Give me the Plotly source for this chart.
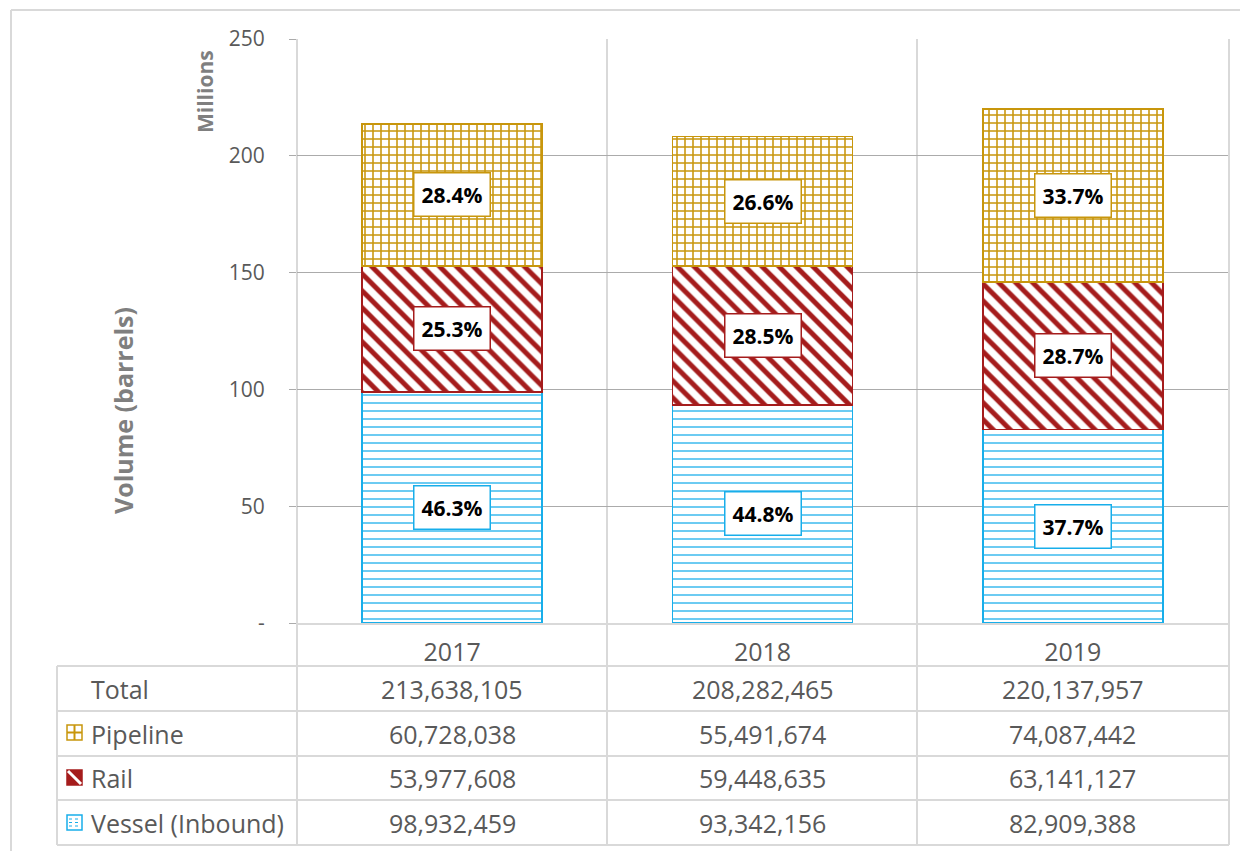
import plotly.graph_objects as go

# ---- data ----
years = ["2017", "2018", "2019"]
pipeline = [60728038, 55491674, 74087442]
rail = [53977608, 59448635, 63141127]
vessel = [98932459, 93342156, 82909388]
totals = [213638105, 208282465, 220137957]
y_ticks = [0, 50, 100, 150, 200, 250]
y_tick_text = ["-", "50", "100", "150", "200", "250"]
row_labels = ["Total", "Pipeline", "Rail", "Vessel (Inbound)"]

# ---- style ----
C_PIPE = "#C8960C"
C_RAIL = "#A51C1C"
C_VES = "#18AEEA"
GRAY_TXT = "#595959"
TITLE_GRAY = "#7F7F7F"
LIGHT = "#D9D9D9"
GRID = "#ABABAB"
FONT = "Open Sans"

OFF = 8  # page body margin
W, H = 1248 - OFF, 851 - OFF
L, R, T, B = 297 - OFF, 20, 39 - OFF, 228
PW = W - L - R
PH = H - T - B


def px(x):
    return (x - OFF - L) / PW


def py(y):
    return (H - B - (y - OFF)) / PH


series = [
    ("Vessel (Inbound)", vessel, C_VES, "-", 8, 0.2, 0.8),
    ("Rail", rail, C_RAIL, "\\", 12, 0.42, 1.0),
    ("Pipeline", pipeline, C_PIPE, "+", 8, 0.35, 1.0),
]

fig = go.Figure()
for name, vals, col, shp, sz, sol, op in series:
    fig.add_trace(go.Bar(
        x=years, y=[v / 1e6 for v in vals], name=name, width=0.58,
        marker=dict(color=col, line=dict(color=col, width=1.5),
                    pattern=dict(shape=shp, size=sz, solidity=sol, fgopacity=op,
                                 fgcolor=col, bgcolor="white", fillmode="replace")),
        showlegend=False, hoverinfo="skip",
    ))

annotations = []
shapes = []

# percentage labels
for i, yr in enumerate(years):
    base = 0.0
    for name, vals, col, *_ in series:
        v = vals[i] / 1e6
        pct = vals[i] / totals[i] * 100
        annotations.append(dict(
            x=i, y=base + v / 2, xref="x", yref="y", showarrow=False,
            xanchor="center", yanchor="middle",
            text=f"<b>{pct:.1f}%</b>", font=dict(family=FONT, size=21, color="black"),
            bgcolor="white", bordercolor=col, borderwidth=1.5, borderpad=7,
        ))
        base += v

# axis titles
annotations.append(dict(x=px(123), y=py(411), xref="paper", yref="paper", showarrow=False,
                        xanchor="center", yanchor="middle",
                        text="<b>Volume (barrels)</b>", textangle=-90,
                        font=dict(family=FONT, size=25, color=TITLE_GRAY)))
annotations.append(dict(x=px(205), y=py(92), xref="paper", yref="paper", showarrow=False,
                        xanchor="center", yanchor="middle",
                        text="<b>Millions</b>", textangle=-90,
                        font=dict(family=FONT, size=21, color=TITLE_GRAY)))

# ---- data table below ----
row_lines = [666, 711, 756, 800, 845]
col_lines = [297, 607, 917, 1229]
for yl in row_lines:
    shapes.append(dict(type="line", xref="paper", yref="paper", x0=px(57), x1=px(1229),
                       y0=py(yl), y1=py(yl), line=dict(color=LIGHT, width=2)))
shapes.append(dict(type="line", xref="paper", yref="paper", x0=px(57), x1=px(57),
                   y0=py(666), y1=py(845), line=dict(color=LIGHT, width=2)))
for xl in col_lines:
    shapes.append(dict(type="line", xref="paper", yref="paper", x0=px(xl), x1=px(xl),
                       y0=py(39), y1=py(845), line=dict(color=LIGHT, width=2), layer="below"))

table_rows = [totals, pipeline, rail, vessel]
for r, (lab, vals) in enumerate(zip(row_labels, table_rows)):
    yc = (row_lines[r] + row_lines[r + 1]) / 2
    annotations.append(dict(x=px(89), y=py(yc), xref="paper", yref="paper", showarrow=False,
                            xanchor="left", yanchor="middle",
                            text=lab, font=dict(family=FONT, size=25, color=GRAY_TXT)))
    for i, yr in enumerate(years):
        annotations.append(dict(x=i, y=py(yc), xref="x", yref="paper", showarrow=False,
                                xanchor="center", yanchor="middle",
                                text=f"{vals[i]:,}", font=dict(family=FONT, size=25, color=GRAY_TXT)))

# legend keys in table
def icon_box(y0, col, fill="white"):
    return dict(type="rect", xref="paper", yref="paper", x0=px(67), x1=px(82),
                y0=py(y0 + 15), y1=py(y0), line=dict(color=col, width=1.5), fillcolor=fill)

pi_y = 725
shapes.append(icon_box(pi_y, C_PIPE))
shapes.append(dict(type="line", xref="paper", yref="paper", x0=px(74.5), x1=px(74.5),
                   y0=py(pi_y), y1=py(pi_y + 15), line=dict(color=C_PIPE, width=2)))
shapes.append(dict(type="line", xref="paper", yref="paper", x0=px(67), x1=px(82),
                   y0=py(pi_y + 7.5), y1=py(pi_y + 7.5), line=dict(color=C_PIPE, width=2)))
ra_y = 770
shapes.append(icon_box(ra_y, C_RAIL, C_RAIL))
shapes.append(dict(type="line", xref="paper", yref="paper", x0=px(68), x1=px(81),
                   y0=py(ra_y + 1), y1=py(ra_y + 14), line=dict(color="white", width=3)))
ve_y = 815
shapes.append(icon_box(ve_y, C_VES))
for k in range(3):
    shapes.append(dict(type="line", xref="paper", yref="paper", x0=px(69), x1=px(80),
                       y0=py(ve_y + 4 + 3.5 * k), y1=py(ve_y + 4 + 3.5 * k),
                       line=dict(color=C_VES, width=1, dash="dot")))

# outer border
shapes.append(dict(type="line", xref="paper", yref="paper", x0=px(11), x1=px(1260),
                   y0=py(10), y1=py(10), line=dict(color=LIGHT, width=2)))
shapes.append(dict(type="line", xref="paper", yref="paper", x0=px(11), x1=px(11),
                   y0=py(10), y1=py(860), line=dict(color=LIGHT, width=2)))

fig.update_layout(
    barmode="stack",
    width=W, height=H,
    margin=dict(l=L, r=R, t=T, b=B, pad=0),
    paper_bgcolor="white", plot_bgcolor="white",
    font=dict(family=FONT, color=GRAY_TXT),
    annotations=annotations, shapes=shapes,
    xaxis=dict(type="category", range=[-0.5, 2.5], autorange=False,
               showgrid=False, showline=True, linecolor=LIGHT, linewidth=2,
               tickfont=dict(family=FONT, size=25, color=GRAY_TXT), ticks="",
               ticklabelstandoff=6, fixedrange=True),
    yaxis=dict(range=[0, 250], autorange=False, tickvals=y_ticks, ticktext=y_tick_text,
               showgrid=True, gridcolor=GRID, gridwidth=1, zeroline=False,
               showline=False, ticks="outside", ticklen=7, tickcolor=GRID,
               tickfont=dict(family=FONT, size=21, color=GRAY_TXT),
               ticklabelstandoff=20, fixedrange=True),
)

fig.write_html("out.html")
